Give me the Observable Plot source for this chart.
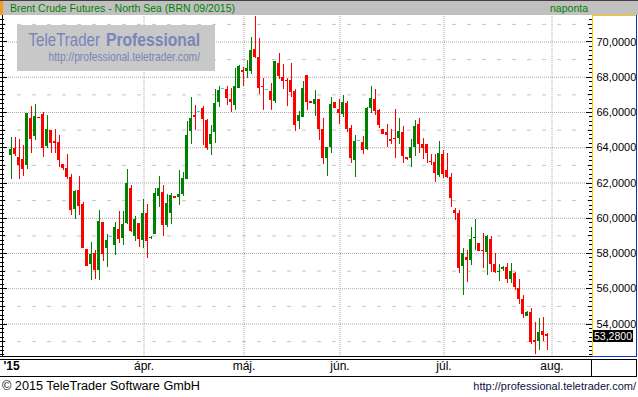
<!DOCTYPE html>
<html><head><meta charset="utf-8">
<script src="https://cdn.jsdelivr.net/npm/d3@7"></script>
<script src="https://cdn.jsdelivr.net/npm/@observablehq/plot@0.6"></script>
<style>
html,body{margin:0;padding:0;background:#fff;}
#chart{position:relative;width:638px;height:397px;overflow:hidden;}
</style></head><body><div id="chart"></div>
<script>
const title = "Brent Crude Futures - North Sea (BRN 09/2015)";
const periodLabel = "naponta";
const yearLabel = "'15";
const monthLabels = ["ápr.", "máj.", "jún.", "júl.", "aug."];
const monthStarts = [34, 59, 83, 109, 136];
const yTicks = [54, 56, 58, 60, 62, 64, 66, 68, 70];
const lastValue = 53.28;
const copyright = "© 2015 TeleTrader Software GmbH";
const siteUrl = "http://professional.teletrader.com/";
const wmTitleA = "TeleTrader";
const wmTitleB = "Professional";

const opens = [63.58,63.97,63.46,63.35,63.01,65.66,64.65,65.72,65.89,64.08,64.98,64.36,64.31,63.07,62.84,62.33,60.47,61.60,60.76,58.22,
57.37,57.99,57.03,59.74,58.27,58.89,58.44,59.35,58.84,59.68,61.66,58.95,59.68,58.73,60.25,58.84,59.06,61.26,61.47,59.60,
60.28,61.25,61.19,61.36,62.21,64.93,65.84,65.99,66.24,65.56,64.20,64.88,66.58,67.30,67.32,66.75,66.41,67.37,68.39,68.34,
68.34,69.58,69.13,67.49,67.24,67.20,66.64,68.79,68.00,67.83,67.83,67.20,65.50,65.73,68.11,66.64,66.46,66.75,65.01,63.37,
63.99,66.59,66.19,65.91,66.53,65.12,63.25,64.37,64.27,63.88,66.25,66.76,66.14,65.06,64.89,64.44,64.50,64.55,64.89,63.42,
63.37,63.99,65.34,64.16,64.16,63.22,63.14,62.41,63.59,62.69,62.29,60.44,60.27,57.26,57.77,57.60,58.85,58.56,58.17,58.05,
58.79,57.37,56.92,57.09,57.20,56.52,56.86,56.00,55.38,54.42,54.64,53.05,52.99,53.57,53.40];
const highs = [64.59,64.59,64.48,64.14,65.94,66.34,66.45,65.72,66.00,65.83,64.98,65.04,64.70,63.07,63.63,62.50,61.60,62.39,60.92,58.22,
58.61,58.16,60.42,59.74,59.06,58.89,59.74,60.36,60.36,62.79,61.83,60.08,59.68,61.09,60.76,58.95,61.71,62.39,61.87,61.36,
61.42,61.25,62.72,62.61,65.50,66.86,66.41,65.99,66.35,65.61,65.27,67.32,67.49,67.30,67.49,67.37,68.51,68.68,68.56,68.96,
70.26,71.42,70.21,67.94,67.24,67.66,68.90,69.36,68.73,67.94,68.79,67.32,66.07,67.77,68.11,66.64,67.26,66.75,65.68,63.99,
66.87,66.59,66.76,66.98,66.64,65.29,64.67,64.37,64.61,66.31,67.49,67.32,66.19,65.06,65.34,65.06,66.19,65.68,65.23,63.42,
64.44,65.57,65.68,64.50,64.21,63.59,63.59,64.33,63.82,63.65,62.52,60.55,60.44,58.28,58.17,59.47,59.93,58.56,59.13,59.02,
58.96,58.00,57.37,57.26,57.43,57.43,56.92,56.52,55.61,54.70,54.87,54.08,54.30,54.36,53.45];
const lows = [62.18,63.52,62.18,62.35,62.79,63.65,64.42,65.66,63.46,63.97,63.69,63.69,62.90,62.73,62.22,60.14,59.91,60.14,58.27,57.26,
56.47,56.53,56.47,57.54,57.20,58.89,57.88,58.56,58.44,59.63,59.18,58.67,58.33,58.27,57.71,58.78,59.06,60.59,58.98,59.49,
59.66,61.13,60.74,61.25,62.21,64.20,64.99,65.99,64.14,63.86,63.57,64.25,66.29,67.30,66.41,66.01,66.12,67.37,67.49,67.94,
68.17,69.04,67.03,66.12,67.24,66.12,66.52,67.88,67.32,66.35,66.86,64.93,65.05,65.73,66.12,66.52,65.78,64.42,63.03,62.35,
63.65,66.25,65.34,65.74,64.84,63.08,62.29,64.37,63.59,63.82,65.97,65.85,65.12,64.78,64.04,64.16,63.37,64.21,63.08,63.25,
62.86,63.48,63.65,63.31,63.08,62.97,62.01,62.29,62.24,62.24,60.60,59.87,56.86,55.61,56.35,57.31,58.17,58.11,57.14,56.75,
56.92,56.86,56.41,56.97,56.29,56.29,55.89,55.10,54.30,54.42,52.83,52.26,52.48,53.00,52.48];
const closes = [63.91,63.60,63.01,62.79,65.94,64.48,65.77,65.66,63.97,65.04,64.25,64.25,63.29,62.84,62.33,60.42,61.54,60.64,58.27,57.26,
57.94,57.03,59.80,57.94,58.72,58.89,59.46,58.78,59.63,62.00,59.23,59.91,58.78,60.25,58.67,58.89,61.38,61.66,59.60,60.85,
61.30,61.13,61.36,62.27,64.71,65.67,65.73,65.99,65.61,63.97,64.76,66.52,67.26,67.30,66.81,66.58,67.49,68.62,68.28,68.51,
69.53,69.13,67.37,67.43,67.24,66.69,68.90,68.05,67.77,67.77,67.15,65.27,65.84,67.37,66.58,66.52,66.75,65.05,63.37,63.99,
66.47,66.25,65.97,66.59,65.06,63.37,64.38,64.37,63.82,66.25,66.81,66.08,65.29,64.78,64.67,64.38,64.44,64.95,63.48,63.31,
64.04,65.23,64.16,63.93,63.65,63.16,62.52,63.65,62.46,62.29,61.11,60.27,57.14,58.00,57.60,58.79,58.90,58.11,58.11,58.96,
57.37,56.92,56.97,57.20,56.52,56.97,56.06,55.38,54.53,54.64,52.94,52.94,53.51,53.34,53.28];

const FONT = "'Liberation Sans', Arial, sans-serif";
const candles = opens.map((o, i) => {
  const c = closes[i];
  const lo = Math.min(o, c), hi = Math.max(o, c);
  return {i, o, h: highs[i], l: lows[i], c,
    dir: c > o ? "up" : (c < o ? "down" : "flat"),
    b1: lo, b2: Math.max(hi, lo + 0.057)};
});
const colorOf = d => d.dir === "up" ? "#008000" : d.dir === "down" ? "#ff0000" : "#00e8ff";
const evenLevels = d3.range(52, 72, 2);
const oddLevels = d3.range(53, 72, 2);
const fmt = v => v.toFixed(4).replace(".", ",");

const plot = Plot.plot({
  width: 638, height: 397,
  marginTop: 16, marginBottom: 40, marginLeft: 2, marginRight: 46,
  style: {fontFamily: FONT, fontSize: "11px", background: "transparent", overflow: "visible"},
  x: {domain: [-2.125, 145.375], axis: null},
  y: {domain: [52.0993, 71.4468], label: null},
  marks: [
    Plot.ruleY(oddLevels, {stroke: "#c4c4c4", strokeDasharray: "4,11"}),
    Plot.ruleY(evenLevels, {stroke: "#a8a8a8", strokeDasharray: "1,1"}),
    Plot.ruleX(monthStarts, {x: d => d - 0.75, stroke: "#a8a8a8", strokeDasharray: "1,1"}),
    Plot.ruleX(candles, {x: "i", y1: "l", y2: "h", stroke: colorOf, strokeWidth: 1, shapeRendering: "crispEdges"}),
    Plot.rect(candles, {x1: d => d.i - 0.375, x2: d => d.i + 0.375, y1: "b1", y2: "b2", fill: colorOf, shapeRendering: "crispEdges"}),
    Plot.axisY({anchor: "right", ticks: yTicks, tickSize: 0, tickPadding: 4, tickFormat: fmt, fontSize: 11, fill: "#000", label: null}),
    Plot.text(monthStarts, {x: d => d - 0.75, text: (d, k) => monthLabels[k], frameAnchor: "bottom", dy: 12.5, fontSize: 12, fill: "#000"}),
    Plot.text([yearLabel], {text: d => d, frameAnchor: "bottom-left", dx: 1, dy: 12.5, textAnchor: "start", fontWeight: "bold", fontSize: 12, fill: "#000"})
  ]
});
document.getElementById("chart").appendChild(plot);

const svg = d3.select(plot);
const ys = plot.scale("y");
const Y = v => ys.apply(v);
const g = svg.append("g").attr("text-anchor", "start");

// left axis line and ticks
g.append("line").attr("x1", 2.5).attr("x2", 2.5).attr("y1", 15).attr("y2", 357).attr("stroke", "#000");
d3.range(52.25, 71.5, 0.25).forEach(v => {
  const yy = Math.round(Y(v)) + 0.5;
  const len = (Math.abs(v % 2) < 1e-6) ? 7 : (Math.abs(v % 1) < 1e-6 ? 5 : 4);
  g.append("line").attr("x1", 0).attr("x2", len).attr("y1", yy).attr("y2", yy).attr("stroke", "#000");
  g.append("line").attr("x1", 592 - len + 1).attr("x2", 592).attr("y1", yy).attr("y2", yy).attr("stroke", "#000");
});

// header
g.append("rect").attr("x", 0).attr("y", 0).attr("width", 638).attr("height", 1).attr("fill", "#404040");
g.append("rect").attr("x", 0).attr("y", 1).attr("width", 638).attr("height", 14).attr("fill", "#c0c0c0");
g.append("rect").attr("x", 0).attr("y", 1).attr("width", 3).attr("height", 14).attr("fill", "#f59a23");
g.append("text").attr("x", 10).attr("y", 11.5).attr("font-family", FONT).attr("font-size", 10.5)
  .attr("text-anchor", "start").attr("fill", "#008000").attr("textLength", 225).attr("lengthAdjust", "spacingAndGlyphs").text(title);
g.append("text").attr("x", 588).attr("y", 11.5).attr("font-family", FONT).attr("font-size", 10.5)
  .attr("fill", "#008000").attr("text-anchor", "end").text(periodLabel);

// watermark
g.append("rect").attr("x", 17).attr("y", 25).attr("width", 198).attr("height", 46).attr("fill", "#c8c8c8");
g.append("text").attr("x", 28.5).attr("y", 46).attr("font-family", FONT).attr("font-size", 17.5)
  .attr("text-anchor", "start").attr("fill", "#7885b9").attr("textLength", 71.5).attr("lengthAdjust", "spacingAndGlyphs").text(wmTitleA);
g.append("text").attr("x", 106).attr("y", 46).attr("font-family", FONT).attr("font-size", 17.5).attr("font-weight", "bold")
  .attr("text-anchor", "start").attr("fill", "#7885b9").attr("textLength", 94).attr("lengthAdjust", "spacingAndGlyphs").text(wmTitleB);
g.append("text").attr("x", 48.5).attr("y", 61).attr("font-family", FONT).attr("font-size", 13)
  .attr("text-anchor", "start").attr("fill", "#7885b9").attr("textLength", 151.5).attr("lengthAdjust", "spacingAndGlyphs").text(siteUrl);

// right axis panel frame
g.append("line").attr("x1", 592.5).attr("x2", 592.5).attr("y1", 15).attr("y2", 357).attr("stroke", "#ffc800");
g.append("line").attr("x1", 592).attr("x2", 637).attr("y1", 15.5).attr("y2", 15.5).attr("stroke", "#ffc800");
g.append("line").attr("x1", 636.5).attr("x2", 636.5).attr("y1", 15).attr("y2", 357).attr("stroke", "#1030c8");
g.append("line").attr("x1", 592).attr("x2", 637).attr("y1", 356.5).attr("y2", 356.5).attr("stroke", "#1030c8");

// last value box
const ly = Y(lastValue);
g.append("rect").attr("x", 593).attr("y", Math.round(ly - 6)).attr("width", 40).attr("height", 12).attr("fill", "#000");
g.append("text").attr("x", 594).attr("y", ly).attr("dy", "0.36em").attr("font-family", FONT).attr("font-size", 11)
  .attr("text-anchor", "start").attr("fill", "#fff").attr("textLength", 38).attr("lengthAdjust", "spacingAndGlyphs").text(fmt(lastValue));

// bottom lines
g.append("line").attr("x1", 0).attr("x2", 592).attr("y1", 356.5).attr("y2", 356.5).attr("stroke", "#000");
g.append("line").attr("x1", 0).attr("x2", 637).attr("y1", 359.5).attr("y2", 359.5).attr("stroke", "#000");
g.append("line").attr("x1", 0).attr("x2", 637).attr("y1", 376.5).attr("y2", 376.5).attr("stroke", "#000");
g.append("line").attr("x1", 591.5).attr("x2", 591.5).attr("y1", 359.5).attr("y2", 376.5).attr("stroke", "#000");
g.append("line").attr("x1", 636.5).attr("x2", 636.5).attr("y1", 359.5).attr("y2", 376.5).attr("stroke", "#000");

// footer
g.append("text").attr("x", 2).attr("y", 390).attr("font-family", FONT).attr("font-size", 12.5)
  .attr("text-anchor", "start").attr("fill", "#000").attr("textLength", 198).attr("lengthAdjust", "spacingAndGlyphs").text(copyright);
g.append("text").attr("x", 636).attr("y", 389.5).attr("font-family", FONT).attr("font-size", 11)
  .attr("fill", "#101040").attr("text-anchor", "end").text(siteUrl);
</script></body></html>
